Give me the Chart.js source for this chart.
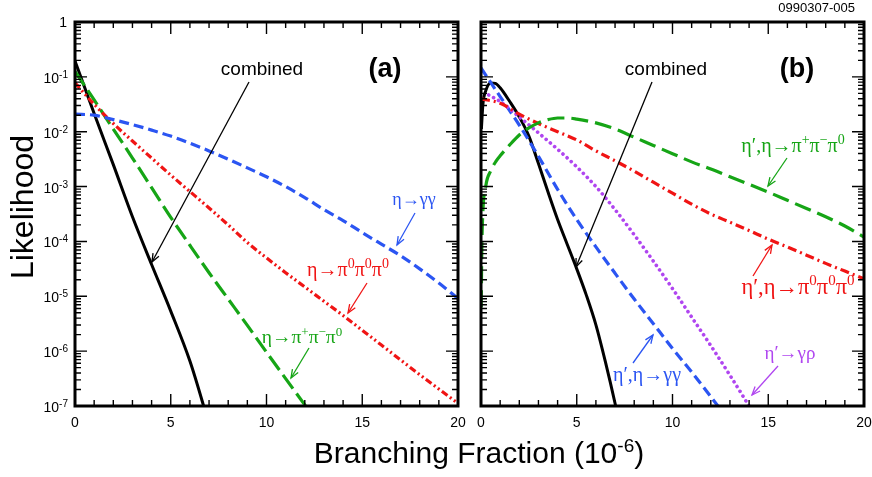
<!DOCTYPE html>
<html><head><meta charset="utf-8">
<script src="https://cdn.jsdelivr.net/npm/chart.js@4.4.1/dist/chart.umd.min.js"></script>
<style>
html,body{margin:0;padding:0;background:#fff;overflow:hidden}
#wrap{position:relative;width:872px;height:477px;background:#fff}
canvas{position:absolute;left:0;top:0}
</style></head><body>
<div id="wrap"><canvas id="ca" width="872" height="477"></canvas><canvas id="cb" width="872" height="477"></canvas></div>
<script>
// ---------- data ----------
const xGrid = [0,1,2,3,4,5,6,7,8,9,10,11,12,13,14,15,16,17,18,19,20];
const xTickLabels = ['0','5','10','15','20'];
const yTickExps = ['0','-1','-2','-3','-4','-5','-6','-7'];

// panel (a)
const aCombX = [0, 1, 2, 3, 4, 5, 6, 6.7, 7.2];
const aCombY = [1.95e-1, 2.14e-2, 2.51e-3, 2.82e-4, 3.80e-5, 5.37e-6, 6.61e-7, 1.05e-7, 2.51e-8];
const aGreenX = [0,1,2,3,4,5,6,7,8,9,10,11,12,12.5];
const aGreenY = [1.26e-1, 3.80e-2, 1.12e-2, 3.31e-3, 9.55e-4, 2.75e-4, 8.51e-5, 2.69e-5, 8.91e-6, 2.95e-6, 9.55e-7, 3.16e-7, 1.05e-7, 6.03e-8];
const aRedY = [7.76e-2, 3.16e-2, 1.41e-2, 6.76e-3, 3.31e-3, 1.62e-3, 8.13e-4, 4.07e-4, 2.00e-4, 9.55e-5, 5.01e-5, 2.69e-5, 1.48e-5, 8.13e-6, 4.47e-6, 2.40e-6, 1.29e-6, 6.92e-7, 3.72e-7, 2.04e-7, 1.12e-7];
const aBlueY = [2.09e-2, 2.00e-2, 1.66e-2, 1.35e-2, 1.07e-2, 8.32e-3, 6.17e-3, 4.47e-3, 3.16e-3, 2.19e-3, 1.51e-3, 1.0e-3, 6.31e-4, 3.80e-4, 2.40e-4, 1.45e-4, 8.91e-5, 5.50e-5, 3.16e-5, 1.74e-5, 9.12e-6];

// panel (b)
const bCombX = [0.02, 0.1, 0.25, 0.5, 0.75, 1, 1.5, 2, 2.5, 3, 3.5, 4, 4.5, 5, 5.5, 6, 6.5, 7, 7.3];
const bCombY = [1.12e-2, 3.16e-2, 5.62e-2, 7.76e-2, 7.59e-2, 6.31e-2, 3.55e-2, 1.86e-2, 8.32e-3, 2.63e-3, 7.94e-4, 2.51e-4, 8.91e-5, 3.16e-5, 1.05e-5, 3.02e-6, 6.31e-7, 1.12e-7, 3.55e-8];
const bBlueX = [0,1,2,3,4,5,6,7,8,9,10,11,12,12.5,13];
const bBlueY = [1.45e-1, 4.37e-2, 1.32e-2, 3.55e-3, 8.91e-4, 2.51e-4, 7.94e-5, 2.63e-5, 8.91e-6, 3.16e-6, 1.12e-6, 4.17e-7, 1.48e-7, 8.71e-8, 5.01e-8];
const bPurpleX = [0.4,1,2,3,4,5,6,7,8,9,10,11,12,13,14,14.5];
const bPurpleY = [4.68e-2, 3.55e-2, 1.86e-2, 9.55e-3, 4.79e-3, 2.29e-3, 1.0e-3, 3.80e-4, 1.32e-4, 4.37e-5, 1.38e-5, 4.17e-6, 1.26e-6, 3.63e-7, 1.0e-7, 5.25e-8];
const bRedY = [3.98e-2, 3.31e-2, 2.09e-2, 1.41e-2, 1.0e-2, 7.08e-3, 4.47e-3, 2.95e-3, 1.91e-3, 1.20e-3, 7.59e-4, 4.79e-4, 3.16e-4, 2.24e-4, 1.58e-4, 1.10e-4, 7.94e-5, 5.62e-5, 3.98e-5, 2.88e-5, 2.09e-5];
const bGreenX = [0.01,0.04,0.08,0.26,0.5,0.78,1,1.5,2,2.5,3,3.5,4,4.5,5,6,7,8,9,10,11,12,13,14,15,16,17,18,19,20];
const bGreenY = [6.31e-6, 6.31e-5, 2.51e-4, 1.07e-3, 1.91e-3, 2.88e-3, 3.63e-3, 5.75e-3, 8.71e-3, 1.17e-2, 1.45e-2, 1.66e-2, 1.78e-2, 1.78e-2, 1.70e-2, 1.45e-2, 1.12e-2, 7.94e-3, 5.62e-3, 3.98e-3, 2.82e-3, 2.09e-3, 1.51e-3, 1.10e-3, 7.94e-4, 5.62e-4, 3.98e-4, 2.82e-4, 1.91e-4, 1.20e-4];

// ---------- styles ----------
const C = {blue:'#2b55f2', red:'#f01414', green:'#16a516', purple:'#b046f0', black:'#000'};
const SANS = '"Liberation Sans", Arial, Helvetica, sans-serif';
const SERIF = '"Liberation Serif", "Times New Roman", serif';

function pts(xs, ys){ return xs.map((x,i)=>({x:x, y:ys[i]})); }
function ds(xs, ys, color, width, dash, cap){
  return {data: pts(xs, ys), borderColor: color, borderWidth: width, borderDash: dash || [],
    borderCapStyle: cap || 'butt', fill:false, pointRadius:0, clip:0, cubicInterpolationMode:'monotone'};
}

// rich text: '^' marks next char as superscript
function rich(ctx, str, x, y, align, color, size, family, supScale){
  const ss = supScale || 0.62;
  const parts = [];
  for (let i=0;i<str.length;i++){
    if (str[i]==='^'){ parts.push({t:str[i+1], sup:true}); i++; }
    else parts.push({t:str[i], sup:false});
  }
  let w = 0;
  parts.forEach(p=>{ ctx.font = (p.sup? Math.round(size*ss): size)+'px '+family; p.w = ctx.measureText(p.t).width; w += p.w; });
  let cx = align==='center' ? x - w/2 : (align==='right' ? x - w : x);
  ctx.textAlign='left'; ctx.textBaseline='alphabetic'; ctx.fillStyle=color;
  parts.forEach(p=>{ ctx.font = (p.sup? Math.round(size*ss): size)+'px '+family;
    ctx.fillText(p.t, cx, y + (p.sup ? -size*0.38 : 0)); cx += p.w; });
}
function arrow(ctx, x1, y1, x2, y2, color){
  ctx.save(); ctx.strokeStyle=color; ctx.lineWidth=1.3; ctx.setLineDash([]);
  ctx.beginPath(); ctx.moveTo(x1,y1); ctx.lineTo(x2,y2); ctx.stroke();
  const a = Math.atan2(y2-y1, x2-x1), L = 9, s = 0.38;
  ctx.beginPath();
  ctx.moveTo(x2 - L*Math.cos(a-s), y2 - L*Math.sin(a-s));
  ctx.lineTo(x2, y2);
  ctx.lineTo(x2 - L*Math.cos(a+s), y2 - L*Math.sin(a+s));
  ctx.stroke(); ctx.restore();
}

const annA = {
  tag: {t:'(a)', x:385, y:77},
  combined: {x:262, y:75, ax1:249, ay1:82, ax2:152, ay2:262},
  labels: [
    {t:'η→γγ', c:C.blue, s:18, x:414, y:205, a:[415,213,397,245]},
    {t:'η→π^0π^0π^0', c:C.red, s:20, x:348, y:276, a:[367,283,348,313]},
    {t:'η→π^+π^−π^0', c:C.green, s:19.5, x:302, y:343, a:[309,348,291,378]}
  ]
};
const annB = {
  tag: {t:'(b)', x:797, y:77},
  combined: {x:666, y:75, ax1:652, ay1:82, ax2:576, ay2:267},
  labels: [
    {t:'η′,η→π^+π^−π^0', c:C.green, s:20, x:793, y:152, a:[787,158,768,186]},
    {t:'η′,η→π^0π^0π^0', c:C.red, s:22.5, x:798, y:294, a:[753,276,772,245]},
    {t:'η′,η→γγ', c:C.blue, s:20, x:647, y:381, a:[633,363,653,335]},
    {t:'η′→γρ', c:C.purple, s:19, x:790, y:359, a:[778,366,752,395]}
  ]
};

function panelPlugin(isA, ann){
  return {
    id:'panel'+(isA?'A':'B'),
    afterDatasetsDraw(chart){
      const ctx = chart.ctx, A = chart.chartArea, xs = chart.scales.x, ys = chart.scales.y;
      ctx.save();
      ctx.setLineDash([]);
      ctx.strokeStyle='#000';
      // ticks
      ctx.lineWidth=1.4;
      ctx.beginPath();
      for (let i=0;i<=20;i++){
        const p = xs.getPixelForValue(i), L = (i%5===0)?12:6;
        ctx.moveTo(p, A.bottom); ctx.lineTo(p, A.bottom-L);
        ctx.moveTo(p, A.top); ctx.lineTo(p, A.top+L);
      }
      for (let e=-7;e<=0;e++){
        const p = ys.getPixelForValue(Math.pow(10,e));
        ctx.moveTo(A.left,p); ctx.lineTo(A.left+12,p);
        ctx.moveTo(A.right,p); ctx.lineTo(A.right-12,p);
        if (e<0) for (let m=2;m<=9;m++){
          const q = ys.getPixelForValue(m*Math.pow(10,e));
          ctx.moveTo(A.left,q); ctx.lineTo(A.left+6,q);
          ctx.moveTo(A.right,q); ctx.lineTo(A.right-6,q);
        }
      }
      ctx.stroke();
      // frame
      ctx.lineWidth=3;
      ctx.strokeRect(A.left, A.top, A.right-A.left, A.bottom-A.top);
      // x tick labels
      ctx.fillStyle='#000'; ctx.font='14px '+SANS; ctx.textAlign='center'; ctx.textBaseline='alphabetic';
      xTickLabels.forEach(s=>{ ctx.fillText(s, xs.getPixelForValue(parseFloat(s)), A.bottom+21); });
      if (isA){
        // y tick labels
        yTickExps.forEach(s=>{
          const e = parseInt(s,10), p = ys.getPixelForValue(Math.pow(10,e));
          if (e===0){ ctx.font='14px '+SANS; ctx.textAlign='right'; ctx.fillText('1', A.left-8, p+5); }
          else {
            ctx.font='10px '+SANS; ctx.textAlign='right'; ctx.fillText(s, A.left-7, p+1);
            const w = ctx.measureText(s).width;
            ctx.font='14px '+SANS; ctx.fillText('10', A.left-7-w, p+6);
          }
        });
        // y title
        ctx.save(); ctx.translate(33, 207); ctx.rotate(-Math.PI/2);
        ctx.font='32px '+SANS; ctx.textAlign='center'; ctx.fillText('Likelihood', 0, 0); ctx.restore();
        // x title
        rich(ctx, 'Branching Fraction (10^-^6)', 479, 463, 'center', '#000', 30, SANS);
      } else {
        ctx.font='13px '+SANS; ctx.textAlign='right'; ctx.fillText('0990307-005', 855, 12);
      }
      // panel tag
      ctx.font='bold 27px '+SANS; ctx.textAlign='center'; ctx.fillStyle='#000';
      ctx.fillText(ann.tag.t, ann.tag.x, ann.tag.y);
      // combined
      ctx.font='19px '+SANS; ctx.fillText('combined', ann.combined.x, ann.combined.y);
      arrow(ctx, ann.combined.ax1, ann.combined.ay1, ann.combined.ax2, ann.combined.ay2, '#000');
      ann.labels.forEach(l=>{
        rich(ctx, l.t, l.x, l.y, 'center', l.c, l.s, SERIF, 0.68);
        arrow(ctx, l.a[0], l.a[1], l.a[2], l.a[3], l.c);
      });
      ctx.restore();
    }
  };
}

function makeChart(id, pad, datasets, isA, ann){
  return new Chart(document.getElementById(id), {
    type:'line',
    data:{datasets: datasets},
    options:{
      responsive:false, animation:false, devicePixelRatio:1, events:[],
      layout:{padding:pad},
      plugins:{legend:{display:false}, tooltip:{enabled:false}, title:{display:false}},
      scales:{
        x:{type:'linear', min:0, max:20, display:false},
        y:{type:'logarithmic', min:1e-7, max:1, display:false}
      },
      elements:{point:{radius:0}}
    },
    plugins:[panelPlugin(isA, ann)]
  });
}

makeChart('ca', {left:75, right:872-458, top:22, bottom:477-406}, [
  ds(xGrid, aBlueY, C.blue, 3.2, [10,5]),
  ds(xGrid, aRedY, C.red, 3.2, [7,3,2,3,2,3]),
  ds(aGreenX, aGreenY, C.green, 3.2, [17,6]),
  ds(aCombX, aCombY, C.black, 3)
], true, annA);

makeChart('cb', {left:481, right:872-864, top:22, bottom:477-406}, [
  ds(bGreenX, bGreenY, C.green, 3.2, [17,7]),
  ds(xGrid, bRedY, C.red, 3.2, [9,4,2,4]),
  ds(bPurpleX, bPurpleY, C.purple, 3.6, [0.1,5.5], 'round'),
  ds(bBlueX, bBlueY, C.blue, 3.2, [10,5]),
  ds(bCombX, bCombY, C.black, 3)
], false, annB);
</script>
</body></html>
